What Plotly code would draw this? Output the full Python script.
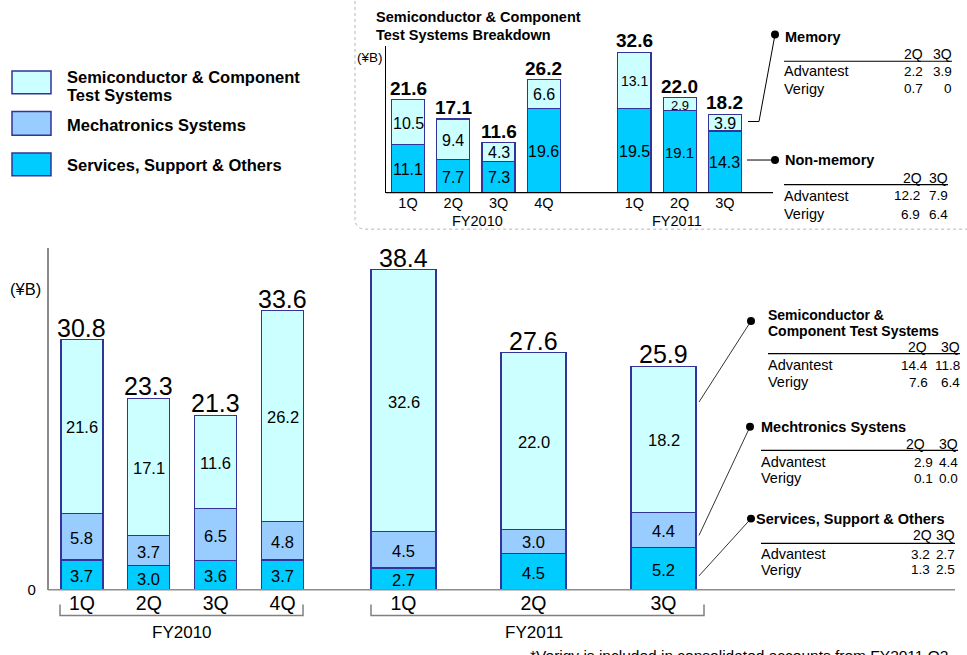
import plotly.graph_objects as go

W, H = 967, 655
FONT = "Liberation Sans, Arial, sans-serif"


def PX(x):
    return x / W


def PY(y):
    return 1 - y / H


# ---------------- data ----------------
quarters_fy10 = ["1Q", "2Q", "3Q", "4Q"]
quarters_fy11 = ["1Q", "2Q", "3Q"]
services = [3.7, 3.0, 3.6, 3.7, 2.7, 4.5, 5.2]
mechatronics = [5.8, 3.7, 6.5, 4.8, 4.5, 3.0, 4.4]
semicon = [21.6, 17.1, 11.6, 26.2, 32.6, 22.0, 18.2]
totals = [30.8, 23.3, 21.3, 33.6, 38.4, 27.6, 25.9]

inset_quarters = ["1Q", "2Q", "3Q", "4Q", "1Q", "2Q", "3Q"]
inset_nonmemory = [11.1, 7.7, 7.3, 19.6, 19.5, 19.1, 14.3]
inset_memory = [10.5, 9.4, 4.3, 6.6, 13.1, 2.9, 3.9]
inset_totals = [21.6, 17.1, 11.6, 26.2, 32.6, 22.0, 18.2]

table_cols = ["2Q", "3Q"]
memory_adv = ["2.2", "3.9"]
memory_ver = ["0.7", "0"]
nonmem_adv = ["12.2", "7.9"]
nonmem_ver = ["6.9", "6.4"]
semi_adv = ["14.4", "11.8"]
semi_ver = ["7.6", "6.4"]
mech_adv = ["2.9", "4.4"]
mech_ver = ["0.1", "0.0"]
serv_adv = ["3.2", "2.7"]
serv_ver = ["1.3", "2.5"]

# ---------------- styles / layout positions ----------------
C_SEMI, C_MECH, C_SERV = "#CCFFFF", "#99CCFF", "#00CCFF"
EDGE = "#333399"
inset_pos = [0, 1, 2, 3, 5, 6, 7]
inset_mem_size = [16, 16, 16, 16, 14, 13, 16]
inset_non_size = [16, 16, 16, 16, 16, 15, 16]

fig = go.Figure()
ann = []
shapes = []

periods = [
    (slice(0, 4), "x", quarters_fy10, 0.628),
    (slice(4, 7), "x2", quarters_fy11, 0.5),
]
segments = [(services, C_SERV), (mechatronics, C_MECH), (semicon, C_SEMI)]

for sl, xa, cats, w in periods:
    base = [0.0] * len(cats)
    for vals, col in segments:
        v = vals[sl]
        fig.add_trace(go.Bar(
            x=cats, y=v, xaxis=xa, yaxis="y", width=w,
            marker=dict(color=col, line=dict(color=EDGE, width=1.2)),
            showlegend=False, hoverinfo="skip"))
        for c, b, val in zip(cats, base, v):
            ann.append(dict(xref=xa, yref="y", x=c, y=b + val / 2, text=f"{val:.1f}",
                            showarrow=False, yanchor="middle", yshift=-1,
                            font=dict(size=16.5, color="black", family=FONT)))
        base = [b + val for b, val in zip(base, v)]
    for c, b, t in zip(cats, base, totals[sl]):
        ann.append(dict(xref=xa, yref="y", x=c, y=b, text=f"{t:.1f}", showarrow=False,
                        yanchor="bottom", yshift=-4,
                        font=dict(size=25, color="black", family=FONT)))

# inset bars
fig.add_trace(go.Bar(x=inset_pos, y=inset_nonmemory, xaxis="x3", yaxis="y2", width=0.73,
                     marker=dict(color=C_SERV, line=dict(color=EDGE, width=1.2)),
                     showlegend=False, hoverinfo="skip"))
fig.add_trace(go.Bar(x=inset_pos, y=inset_memory, xaxis="x3", yaxis="y2", width=0.73,
                     marker=dict(color=C_SEMI, line=dict(color=EDGE, width=1.2)),
                     showlegend=False, hoverinfo="skip"))
for p, nm, mm, tt, s1, s2 in zip(inset_pos, inset_nonmemory, inset_memory, inset_totals,
                                 inset_non_size, inset_mem_size):
    ann.append(dict(xref="x3", yref="y2", x=p, y=nm / 2, text=f"{nm:.1f}", showarrow=False,
                    yanchor="middle", yshift=-1, font=dict(size=s1, color="black", family=FONT)))
    ann.append(dict(xref="x3", yref="y2", x=p, y=nm + mm / 2, text=f"{mm:.1f}", showarrow=False,
                    yanchor="middle", yshift=-1, font=dict(size=s2, color="black", family=FONT)))
    ann.append(dict(xref="x3", yref="y2", x=p, y=nm + mm, text=f"<b>{tt:.1f}</b>", showarrow=False,
                    yanchor="bottom", yshift=-1, font=dict(size=19, color="black", family=FONT)))


def T(x, y, s, size, bold=False, xa="left"):
    ann.append(dict(xref="paper", yref="paper", x=PX(x), y=PY(y),
                    text=f"<b>{s}</b>" if bold else s, showarrow=False,
                    xanchor=xa, yanchor="middle", borderpad=0, borderwidth=0,
                    font=dict(size=size, color="black", family=FONT)))


def L(x0, y0, x1, y1, color="black", width=1.0, dash=None):
    ln = dict(color=color, width=width)
    if dash:
        ln["dash"] = dash
    shapes.append(dict(type="line", xref="paper", yref="paper", x0=PX(x0), y0=PY(y0),
                       x1=PX(x1), y1=PY(y1), line=ln))


def dot(cx, cy, r=4):
    shapes.append(dict(type="circle", xref="paper", yref="paper", x0=PX(cx - r), x1=PX(cx + r),
                       y0=PY(cy + r), y1=PY(cy - r), fillcolor="black", line=dict(width=0)))


def path(pts, color, width, dash=None):
    d = "M " + " L ".join(f"{PX(a)},{PY(b)}" for a, b in pts)
    ln = dict(color=color, width=width)
    if dash:
        ln["dash"] = dash
    shapes.append(dict(type="path", xref="paper", yref="paper", path=d, line=ln))


# inset rounded dotted frame
shapes.append(dict(type="path", xref="paper", yref="paper",
                   path=(f"M {PX(355)},{PY(-5)} L {PX(355)},{PY(221)} "
                         f"Q {PX(355)},{PY(232)} {PX(366)},{PY(232)} L {PX(980)},{PY(232)}"),
                   line=dict(color="#B5B5B5", width=1, dash="dot")))

# baselines
L(48, 597, 955, 597, "#8C8C8C", 1.5)
L(386, 195, 773, 195, "black", 1.2)

# brackets
path([(60, 612), (60, 623), (303, 623), (303, 612)], "#808080", 1.5)
path([(371, 612), (371, 623), (704, 623), (704, 612)], "#808080", 1.5)
T(182, 640, "FY2010", 17, xa="center")
T(534, 640, "FY2011", 17, xa="center")
T(477, 224, "FY2010", 14.5, xa="center")
T(677, 224, "FY2011", 14.5, xa="center")

# units
T(25, 293, "(¥B)", 16.5, xa="center")
T(370, 58, "(¥B)", 13.5, xa="center")

# legend
legend_items = [
    (72, 95, C_SEMI, ["Semiconductor & Component", "Test Systems"], [77.5, 96]),
    (113, 137, C_MECH, ["Mechatronics Systems"], [127]),
    (155, 178, C_SERV, ["Services, Support & Others"], [167]),
]
for y0, y1, col, lines, ys in legend_items:
    shapes.append(dict(type="rect", xref="paper", yref="paper", x0=PX(12), x1=PX(51),
                       y0=PY(y1), y1=PY(y0), fillcolor=col, line=dict(color=EDGE, width=1.5)))
    for s, yy in zip(lines, ys):
        T(67, yy, s, 16.5, bold=True)

# inset title
T(376, 17, "Semiconductor & Component", 14.5, bold=True)
T(376, 35, "Test Systems Breakdown", 14.5, bold=True)


def table(x_left, xh1, x_c1, x_c2, y_head, y_line, y_adv, y_ver, adv, ver):
    T(xh1, y_head, table_cols[0], 14, xa="right")
    T(x_c2, y_head, table_cols[1], 14, xa="right")
    L(x_left, y_line, x_c2, y_line, "black", 1.2)
    T(x_left, y_adv, "Advantest", 14.5)
    T(x_left, y_ver, "Verigy", 14.5)
    T(x_c1, y_adv, adv[0], 13.5, xa="right")
    T(x_c2, y_adv, adv[1], 13.5, xa="right")
    T(x_c1, y_ver, ver[0], 13.5, xa="right")
    T(x_c2, y_ver, ver[1], 13.5, xa="right")


# inset side tables
dot(775, 35)
path([(748, 123), (759, 123), (775, 35)], "black", 1)
T(785, 37, "Memory", 14.5, bold=True)
table(784, 923, 923, 952, 55, 62, 72, 90, memory_adv, memory_ver)

dot(775, 162)
L(747, 162, 775, 162, "black", 1)
T(785, 162, "Non-memory", 14.5, bold=True)
table(784, 922, 920, 948, 180, 187, 198, 217, nonmem_adv, nonmem_ver)

# main side tables
dot(751, 325)
L(699, 407, 751, 325, "black", 0.8)
T(768, 319, "Semiconductor &", 14, bold=True)
T(768, 335, "Component Test Systems", 14, bold=True)
table(768, 927, 928, 960, 351, 358, 370, 387, semi_adv, semi_ver)

dot(750, 432)
L(699, 542, 750, 432, "black", 0.8)
T(761, 432, "Mechtronics Systens", 14.5, bold=True)
table(761, 925, 933, 958, 449, 456, 468, 484, mech_adv, mech_ver)

dot(751, 525)
L(699, 583, 751, 525, "black", 0.8)
T(756, 525, "Services, Support & Others", 14.5, bold=True)
table(761, 932, 930, 955, 542, 550, 561, 577, serv_adv, serv_ver)

# footnote (cut off at the bottom of the page)
T(530, 664, "*Verigy is included in consolidated accounts from FY2011 Q2", 15.5)

axis_common = dict(showgrid=False, zeroline=False, ticks="", showline=False)
fig.update_layout(
    width=W, height=H, autosize=False,
    margin=dict(l=0, r=0, t=0, b=0),
    paper_bgcolor="white", plot_bgcolor="rgba(0,0,0,0)",
    barmode="stack", showlegend=False,
    font=dict(family=FONT, color="black"),
    xaxis=dict(domain=[PX(48.5), PX(316)], anchor="y", type="category",
               categoryorder="array", categoryarray=quarters_fy10, range=[-0.5, 3.5],
               tickfont=dict(size=19.5, color="black"), **axis_common),
    xaxis2=dict(domain=[PX(338.5), PX(728.5)], anchor="y", type="category",
                categoryorder="array", categoryarray=quarters_fy11, range=[-0.5, 2.5],
                tickfont=dict(size=19.5, color="black"), **axis_common),
    yaxis=dict(domain=[PY(597), PY(251)], anchor="x", range=[0, 346 / 8.14],
               showgrid=False, zeroline=False, ticks="", showline=True,
               linecolor="#8C8C8C", linewidth=1.5, tickvals=[0], ticktext=["0"],
               tickfont=dict(size=15, color="black"), ticklabelstandoff=8),
    xaxis3=dict(domain=[PX(386), PX(758)], anchor="y2", range=[-0.486, 7.73],
                tickvals=inset_pos, ticktext=inset_quarters,
                tickfont=dict(size=14.5, color="black"), **axis_common),
    yaxis2=dict(domain=[PY(195), PY(47)], anchor="x3", range=[0, 148 / 4.36],
                showgrid=False, zeroline=False, ticks="", showline=True,
                linecolor="black", linewidth=1.2, showticklabels=False),
    annotations=ann,
    shapes=shapes,
)

fig.write_html("out.html")
